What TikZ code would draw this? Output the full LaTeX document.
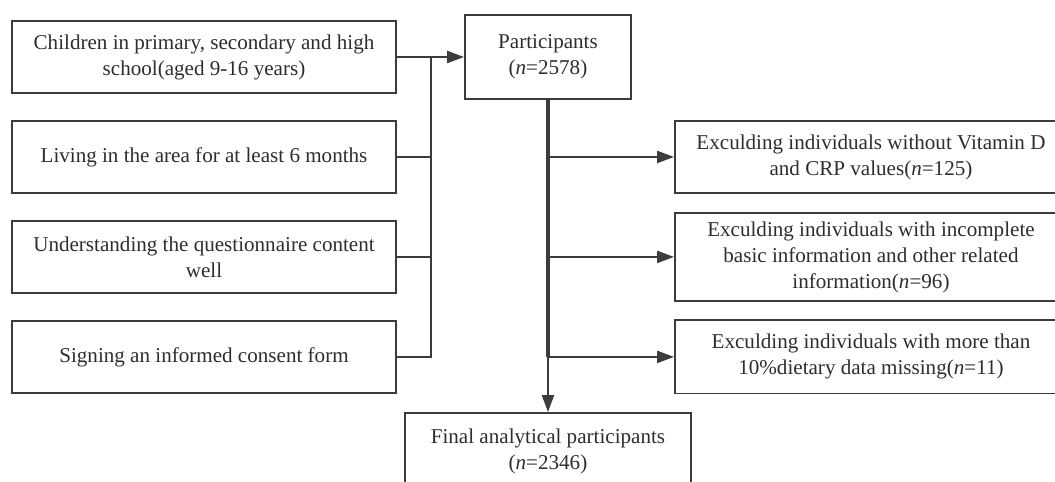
\documentclass[tikz,border=0pt]{standalone}
\usepackage{fontspec}
\setmainfont{Liberation Serif}
\usepackage{xcolor}
\definecolor{linegray}{RGB}{58,60,64}
\definecolor{textgray}{RGB}{45,45,45}
\usepackage{tikz}
\usetikzlibrary{arrows.meta,positioning,calc}

\begin{document}
\begin{tikzpicture}[
    crit/.style={rectangle, draw=linegray, line width=1.4pt,
                 minimum width=9.6cm, minimum height=1.8cm,
                 align=center, text=textgray,
                 font=\fontsize{15}{18.5}\selectfont},
    mainbox/.style={crit, minimum width=4.15cm, minimum height=2.1cm},
    excl/.style={crit, minimum width=9.8cm},
    ln/.style={line width=1.4pt, linegray},
    trunk/.style={line width=2.8pt, linegray},
    arr/.style={ln, -{Triangle[length=0.42cm, width=0.3cm]}},
  ]
    \useasboundingbox (0,0) rectangle (26.375,12.025);

    \node[crit] (lft1) at (5.1,10.6) {Children in primary, secondary and high\\school(aged 9-16 years)};
    \node[crit, below=0.65cm of lft1] (lft2) {Living in the area for at least 6 months};
    \node[crit, below=0.65cm of lft2] (lft3) {Understanding the questionnaire content\\well};
    \node[crit, below=0.65cm of lft3] (lft4) {Signing an informed consent form};

    \node[mainbox, right=1.675cm of lft1] (part) {Participants\\(\textit{n}=2578)};

    \node[excl, right=6.925cm of lft2, minimum height=1.78cm] (rgtA) {Exculding individuals without Vitamin D\\and CRP values(\textit{n}=125)};
    \node[excl, right=6.925cm of lft3, minimum height=2.18cm] (rgtB) {Exculding individuals with incomplete\\basic information and other related\\information(\textit{n}=96)};
    \node[excl, right=6.925cm of lft4, minimum height=1.83cm] (rgtC) {Exculding individuals with more than\\10\%dietary data missing(\textit{n}=11)};

    \node[mainbox, below=7.8cm of part, minimum width=7.15cm, minimum height=1.9cm] (final) {Final analytical participants\\(\textit{n}=2346)};

    \coordinate (bus) at ($(lft1.east)+(0.85,0)$);
    \coordinate (brC) at (part.south |- rgtC.west);

    \draw[ln] (lft4.east) -| (bus);
    \draw[ln] (lft2.east) -- (lft2.east -| bus);
    \draw[ln] (lft3.east) -- (lft3.east -| bus);
    \draw[arr] (lft1.east) -- (part.west);

    \draw[trunk] (part.south) -- (brC);
    \draw[arr] (part.south |- rgtA.west) -- (rgtA.west);
    \draw[arr] (part.south |- rgtB.west) -- (rgtB.west);
    \draw[arr] (brC) -- (rgtC.west);
    \draw[arr] (brC) -- (final.north);
  \end{tikzpicture}
\end{document}
